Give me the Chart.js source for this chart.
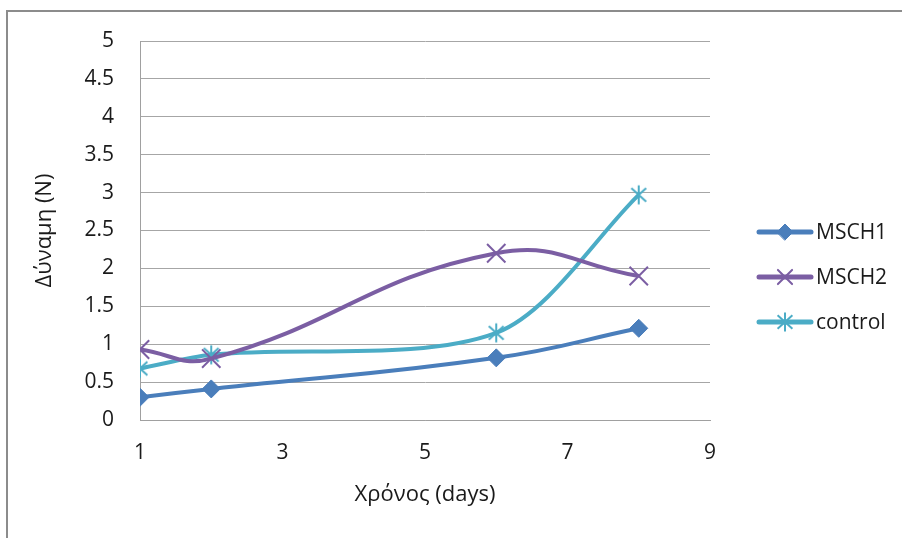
<!DOCTYPE html>
<html>
<head>
<meta charset="utf-8">
<script src="https://cdn.jsdelivr.net/npm/chart.js@4.4.1/dist/chart.umd.min.js"></script>
<style>
  html, body { margin: 0; padding: 0; background: #ffffff; }
  #wrap { width: 902px; height: 538px; }
</style>
</head>
<body>
<div id="wrap"><canvas id="chart" width="902" height="538"></canvas></div>
<script>
// Measurement days and force values (N)
const days = [1, 2, 6, 8];
const msch1 = [0.30, 0.41, 0.82, 1.21];
const msch2 = [0.93, 0.81, 2.20, 1.90];
const control = [0.68, 0.86, 1.15, 2.97];
const seriesNames = ['MSCH1', 'MSCH2', 'control'];
const yTicks = [0, 0.5, 1, 1.5, 2, 2.5, 3, 3.5, 4, 4.5, 5];
const xTicks = [1, 3, 5, 7, 9];

const FONT = '"Open Sans", "Liberation Sans", sans-serif';
const TEXT = '#1a1a1a';

// Asterisk marker (vertical stroke plus an X)
function makeAsterisk(color, size) {
  const c = document.createElement('canvas');
  c.width = size; c.height = size;
  const g = c.getContext('2d');
  const m = size / 2, r = size / 2 - 1.5;
  g.strokeStyle = color; g.lineWidth = 2; g.lineCap = 'butt';
  g.beginPath();
  g.moveTo(m, m - r); g.lineTo(m, m + r);
  const d = r * 0.78;
  g.moveTo(m - d, m - d * 0.9); g.lineTo(m + d, m + d * 0.9);
  g.moveTo(m + d, m - d * 0.9); g.lineTo(m - d, m + d * 0.9);
  g.stroke();
  return c;
}

const colors = ['#4a7ebb', '#7b5ea3', '#4bacc6'];
const asterisk = makeAsterisk(colors[2], 22);

function pts(vals) { return days.map((d, i) => ({ x: d, y: vals[i] })); }

const datasets = [
  { label: seriesNames[0], data: pts(msch1), borderColor: colors[0], backgroundColor: colors[0],
    pointStyle: 'rectRot', pointRadius: 9, pointBorderWidth: 1, pointBackgroundColor: colors[0], tension: 0.45 },
  { label: seriesNames[1], data: pts(msch2), borderColor: colors[1], backgroundColor: colors[1],
    pointStyle: 'crossRot', pointRadius: 13, pointBorderWidth: 2, tension: 0.45 },
  { label: seriesNames[2], data: pts(control), borderColor: colors[2], backgroundColor: colors[2],
    pointStyle: asterisk, pointRadius: 11, tension: 0.3 }
].map(ds => Object.assign({ borderWidth: 4, fill: false, cubicInterpolationMode: 'default' }, ds));

// Outer frame of the chart object
const framePlugin = {
  id: 'frame',
  beforeDraw(chart) {
    const ctx = chart.ctx;
    ctx.save();
    ctx.fillStyle = '#ffffff';
    ctx.fillRect(0, 0, chart.width, chart.height);
    ctx.strokeStyle = '#8c8c8c';
    ctx.lineWidth = 2;
    ctx.beginPath();
    ctx.moveTo(7, chart.height + 5);
    ctx.lineTo(7, 11);
    ctx.lineTo(chart.width + 5, 11);
    ctx.stroke();
    ctx.restore();
  }
};

// Legend on the right: line sample with marker, then label
const legendPlugin = {
  id: 'sideLegend',
  afterDraw(chart) {
    const ctx = chart.ctx;
    ctx.save();
    chart.data.datasets.forEach((ds, i) => {
      const y = 232 + i * 45;
      ctx.strokeStyle = ds.borderColor;
      ctx.lineWidth = 5;
      ctx.lineCap = 'round';
      ctx.beginPath();
      ctx.moveTo(759, y); ctx.lineTo(811, y);
      ctx.stroke();
      const style = ds.pointStyle;
      if (typeof style === 'string') {
        ctx.fillStyle = ds.backgroundColor;
        ctx.strokeStyle = ds.borderColor;
        ctx.lineWidth = ds.pointBorderWidth || 1;
        Chart.helpers.drawPoint(ctx, { pointStyle: style, radius: style === 'rectRot' ? 8 : 10, borderWidth: ctx.lineWidth, rotation: 0 }, 785, y);
      } else {
        ctx.drawImage(style, 785 - style.width / 2, y - style.height / 2);
      }
      ctx.fillStyle = TEXT;
      ctx.font = '21px ' + FONT;
      ctx.textBaseline = 'middle';
      ctx.textAlign = 'left';
      ctx.fillText(ds.label, 816, y + 1);
    });
    ctx.restore();
  }
};

new Chart(document.getElementById('chart'), {
  type: 'line',
  data: { datasets },
  plugins: [framePlugin, legendPlugin],
  options: {
    responsive: false,
    animation: false,
    devicePixelRatio: 1,
    layout: { padding: { left: 20, top: 41, right: 192, bottom: 18 } },
    plugins: { legend: { display: false }, tooltip: { enabled: false } },
    scales: {
      x: {
        type: 'linear', min: 1, max: 9,
        afterBuildTicks(scale) { scale.ticks = xTicks.map(v => ({ value: v })); },
        afterFit(scale) { scale.height = 100; },
        grid: { display: false, drawTicks: false },
        border: { display: true, color: '#a0a0a0', width: 1 },
        ticks: { color: TEXT, font: { family: FONT, size: 21 }, padding: 20, maxRotation: 0,
                 callback: v => String(v) },
        title: { display: true, text: 'Χρόνος (days)', color: TEXT, font: { family: FONT, size: 22 }, padding: { top: 0, bottom: 12 } }
      },
      y: {
        type: 'linear', min: 0, max: 5,
        afterBuildTicks(scale) { scale.ticks = yTicks.map(v => ({ value: v })); },
        afterFit(scale) { scale.width = 120; },
        grid: { color: '#a6a6a6', lineWidth: 1, drawTicks: false },
        border: { display: true, color: '#a0a0a0', width: 1 },
        ticks: { color: TEXT, font: { family: FONT, size: 21 }, padding: 26,
                 callback: v => String(v) },
        title: { display: true, text: 'Δύναμη (N)', color: TEXT, font: { family: FONT, size: 22 }, padding: { top: 12, bottom: 0 } }
      }
    }
  }
});
</script>
</body>
</html>
